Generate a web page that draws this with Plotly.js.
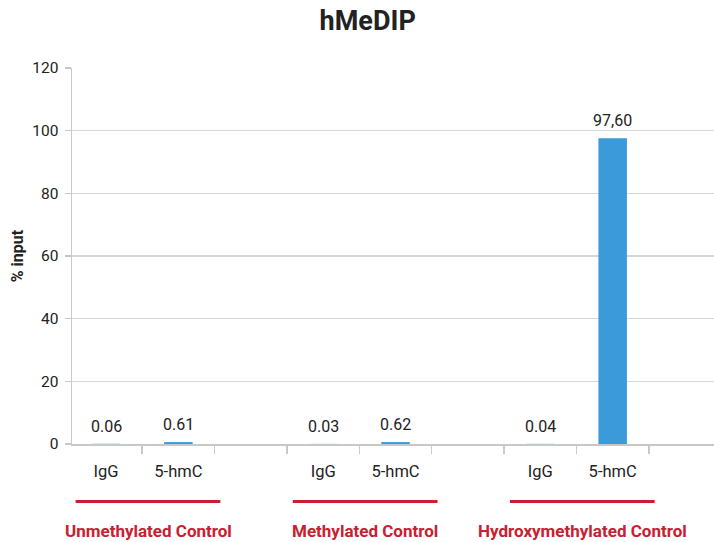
<!DOCTYPE html>
<html>
<head>
<meta charset="utf-8">
<script src="https://cdn.plot.ly/plotly-3.0.1.min.js"></script>
<style>html,body{margin:0;padding:0;background:#fff;}#chart{width:714px;height:542px;}</style>
</head>
<body>
<div id="chart"></div>
<script>
// ---- data ----
const groups = ["Unmethylated Control", "Methylated Control", "Hydroxymethylated Control"];
const antibodies = ["IgG", "5-hmC"];
const values = [0.06, 0.61, 0.03, 0.62, 0.04, 97.6];
const valueLabels = ["0.06", "0.61", "0.03", "0.62", "0.04", "97,60"];
const yTicks = [0, 20, 40, 60, 80, 100, 120];

// ---- build category keys (with an empty spacer category between groups) ----
const xKeys = [], yVals = [], tickText = [], groupKeys = [];
let k = 0;
groups.forEach((g, gi) => {
  const keysForGroup = [];
  antibodies.forEach((a) => {
    const key = g + "|" + a;
    xKeys.push(key); yVals.push(values[k]); tickText.push(a); keysForGroup.push(key);
    k++;
  });
  groupKeys.push(keysForGroup);
  if (gi < groups.length - 1) {
    const key = "gap" + gi;
    xKeys.push(key); yVals.push(null); tickText.push("");
  }
});

const FONT = "Roboto, 'DejaVu Sans', sans-serif";
const TEXT = "#222222";
const RED = "#c9202f";

const annotations = [];
let vi = 0;
xKeys.forEach((key, i) => {
  if (yVals[i] === null) return;
  annotations.push({
    x: key, y: yVals[i], xref: "x", yref: "y",
    text: valueLabels[vi], showarrow: false, yanchor: "bottom", yshift: 6,
    font: {family: FONT, size: 16, color: TEXT}
  });
  vi++;
});

const shapes = [];
groups.forEach((g, gi) => {
  const c = xKeys.indexOf(groupKeys[gi][0]) + 0.5 + 0.08;
  shapes.push({
    type: "line", xref: "x", yref: "paper",
    x0: c - 1.0, x1: c + 1.0, y0: -0.153, y1: -0.153,
    line: {color: RED, width: 3}
  });
  annotations.push({
    x: c, xref: "x", y: -0.232, yref: "paper", text: "<b>" + g + "</b>",
    showarrow: false, xanchor: "center", yanchor: "middle",
    font: {family: FONT, size: 17, color: RED}
  });
});

const trace = {
  type: "bar", x: xKeys, y: yVals,
  marker: {color: "#3b9ad9"},
  hoverinfo: "skip"
};

const layout = {
  width: 714, height: 542,
  margin: {l: 72, r: 0, t: 68, b: 98},
  paper_bgcolor: "#fff", plot_bgcolor: "#fff",
  showlegend: false,
  bargap: 0.606,
  title: {
    text: "<b>hMeDIP</b>", x: 0.515, xref: "container", xanchor: "center",
    y: 0.962, yref: "container", yanchor: "middle",
    font: {family: FONT, size: 27, color: TEXT}
  },
  xaxis: {
    type: "category", categoryorder: "array", categoryarray: xKeys,
    tickmode: "array", tickvals: xKeys, ticktext: tickText,
    tickson: "boundaries", ticks: "outside", ticklen: 8, tickwidth: 1.5, tickcolor: "#c8c8c8",
    ticklabelstandoff: 12,
    range: [-0.47, 8.4],
    showline: true, linecolor: "#c8c8c8", linewidth: 1.5,
    showgrid: false, zeroline: false,
    tickfont: {family: FONT, size: 16.5, color: TEXT},
    fixedrange: true
  },
  yaxis: {
    range: [0, 120], tickmode: "array", tickvals: yTicks,
    ticks: "outside", ticklen: 6, tickwidth: 1.5, tickcolor: "#c8c8c8",
    ticklabelstandoff: 3,
    showline: true, linecolor: "#c8c8c8", linewidth: 1.5,
    showgrid: true, gridcolor: "#d6d6d6", gridwidth: 1.5,
    zeroline: false,
    tickfont: {family: FONT, size: 15.5, color: TEXT},
    title: {text: "<b>% input</b>", font: {family: FONT, size: 16, color: TEXT}, standoff: 4},
    fixedrange: true
  },
  annotations: annotations,
  shapes: shapes
};

Plotly.newPlot("chart", [trace], layout, {displayModeBar: false, staticPlot: true});
</script>
</body>
</html>
